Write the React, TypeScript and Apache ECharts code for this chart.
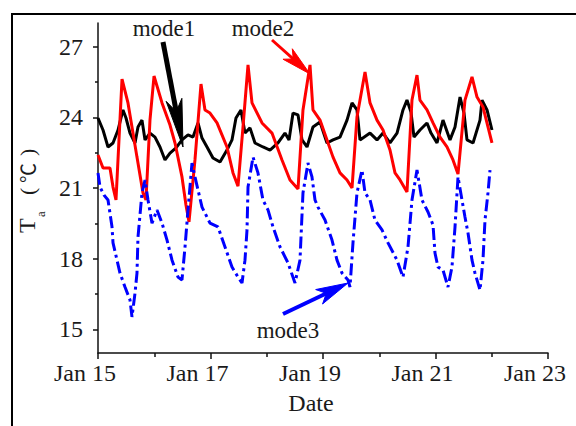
import React, { useEffect, useRef } from "react";
import * as echarts from "echarts";

// Date axis: days after Jan 15 00:00
const xTickValues = [0, 2, 4, 6, 8];
const xTickLabels = ["Jan 15", "Jan 17", "Jan 19", "Jan 21", "Jan 23"];
const yTickValues = [15, 18, 21, 24, 27];
const yMinorTickValues = [16.5, 19.5, 22.5, 25.5];
const seriesNames = ["mode1", "mode2", "mode3"];
const xAxisTitle = "Date";

// mode1 (black)
const mode1Days = [0, 0.089, 0.178, 0.267, 0.356, 0.444, 0.498, 0.569, 0.658, 0.711, 0.782, 0.836, 0.924, 1.013, 1.102, 1.191, 1.28, 1.387, 1.493, 1.6, 1.689, 1.778, 1.849, 1.938, 2.044, 2.169, 2.293, 2.382, 2.453, 2.542, 2.613, 2.702, 2.791, 2.933, 3.058, 3.2, 3.324, 3.396, 3.467, 3.556, 3.627, 3.716, 3.822, 3.947, 4.071, 4.178, 4.302, 4.427, 4.516, 4.604, 4.658, 4.836, 4.96, 5.067, 5.191, 5.316, 5.422, 5.493, 5.564, 5.618, 5.724, 5.849, 5.92, 6.027, 6.133, 6.258, 6.347, 6.436, 6.507, 6.56, 6.667, 6.791, 6.827, 6.916, 7.004];
const mode1Temps = [23.97, 23.46, 22.74, 22.91, 23.46, 24.31, 23.97, 23.33, 22.91, 23.59, 23.88, 23.04, 23.33, 23.16, 22.74, 22.19, 22.48, 22.7, 23.04, 23.25, 23.16, 23.76, 23.12, 22.74, 22.27, 22.1, 22.61, 23.04, 23.97, 24.31, 23.33, 23.55, 22.91, 22.74, 22.61, 22.91, 23.33, 23.04, 24.18, 24.1, 23.04, 22.74, 23.59, 23.8, 22.91, 23.04, 23.16, 23.88, 24.61, 24.31, 23.04, 23.33, 23.04, 23.33, 22.91, 23.33, 24.31, 24.73, 24.22, 23.16, 23.46, 23.76, 23.33, 22.91, 23.88, 23.04, 23.59, 24.86, 24.18, 23.04, 22.91, 23.88, 24.73, 24.31, 23.46];

// mode2 (red)
const mode2Days = [0, 0.089, 0.213, 0.267, 0.32, 0.373, 0.427, 0.533, 0.622, 0.693, 0.8, 0.853, 0.924, 0.996, 1.138, 1.28, 1.369, 1.493, 1.564, 1.618, 1.724, 1.831, 1.902, 1.991, 2.116, 2.293, 2.4, 2.489, 2.578, 2.667, 2.738, 2.916, 3.093, 3.271, 3.413, 3.556, 3.644, 3.769, 3.822, 3.947, 4.071, 4.178, 4.302, 4.427, 4.516, 4.604, 4.747, 4.836, 4.96, 5.067, 5.191, 5.28, 5.369, 5.493, 5.582, 5.671, 5.724, 5.849, 5.956, 6.08, 6.204, 6.311, 6.4, 6.524, 6.649, 6.738, 6.844, 6.933, 7.004];
const mode2Temps = [22.4, 21.85, 21.85, 21.04, 20.49, 23.04, 25.62, 24.61, 23.33, 22.31, 20.79, 20.49, 23.88, 25.75, 24.61, 23.67, 22.91, 21.47, 20.28, 19.56, 22.19, 25.41, 24.31, 24.18, 23.76, 22.74, 21.64, 21.08, 23.59, 26.22, 24.61, 23.76, 23.33, 22.19, 21.34, 20.96, 24.31, 26.22, 24.31, 23.88, 23.04, 22.31, 21.64, 21.34, 21.0, 24.01, 25.92, 24.61, 23.88, 23.46, 22.61, 21.64, 21.34, 20.83, 24.73, 25.79, 24.73, 24.31, 23.76, 23.16, 22.74, 22.19, 21.59, 24.73, 25.71, 24.86, 24.44, 23.59, 22.91];

// mode3 (blue)
const mode3Days = [0, 0.036, 0.107, 0.178, 0.249, 0.267, 0.338, 0.391, 0.48, 0.569, 0.604, 0.658, 0.693, 0.711, 0.782, 0.836, 0.889, 0.96, 1.049, 1.138, 1.227, 1.316, 1.422, 1.493, 1.547, 1.6, 1.671, 1.724, 1.849, 1.991, 2.133, 2.258, 2.382, 2.489, 2.56, 2.613, 2.649, 2.667, 2.756, 2.844, 2.933, 3.022, 3.111, 3.236, 3.378, 3.502, 3.591, 3.644, 3.733, 3.804, 3.858, 3.911, 4.036, 4.16, 4.249, 4.338, 4.444, 4.48, 4.533, 4.604, 4.693, 4.747, 4.836, 4.924, 5.049, 5.156, 5.316, 5.422, 5.511, 5.582, 5.671, 5.76, 5.867, 5.956, 5.991, 6.044, 6.133, 6.222, 6.293, 6.347, 6.4, 6.471, 6.524, 6.578, 6.649, 6.702, 6.791, 6.844, 6.88, 6.933, 6.969];
const mode3Temps = [21.64, 21.04, 20.7, 20.49, 19.35, 18.67, 17.94, 17.39, 16.8, 16.25, 15.53, 16.54, 17.39, 18.92, 20.79, 21.34, 20.49, 19.51, 20.07, 19.51, 18.79, 17.94, 17.22, 17.1, 18.5, 20.07, 22.06, 21.47, 20.19, 19.51, 19.35, 18.5, 17.65, 17.22, 16.97, 17.94, 19.22, 21.04, 22.31, 21.64, 20.49, 20.07, 19.35, 18.5, 17.82, 16.97, 17.94, 20.79, 22.06, 21.47, 20.49, 20.19, 19.64, 18.79, 17.94, 17.39, 17.1, 16.8, 18.67, 20.79, 21.76, 20.79, 20.49, 19.64, 19.22, 18.67, 17.94, 17.22, 18.5, 20.49, 21.76, 20.49, 19.98, 19.43, 18.24, 17.65, 17.52, 16.8, 17.65, 19.35, 21.47, 20.49, 19.77, 19.09, 17.94, 17.39, 16.67, 17.94, 19.64, 20.79, 21.76];

const zip = (xs: number[], ys: number[]) => xs.map((x, i) => [x, ys[i]]);

const SERIF = '"Liberation Serif", "Times New Roman", serif';
const TXT = "#1a1a1a";

function arrowHead(tip: [number, number], tail: [number, number], len: number, half: number) {
  const dx = tip[0] - tail[0];
  const dy = tip[1] - tail[1];
  const l = Math.hypot(dx, dy);
  const ux = dx / l, uy = dy / l;
  const bx = tip[0] - ux * len, by = tip[1] - uy * len;
  return [
    [tip[0], tip[1]],
    [bx - uy * half, by + ux * half],
    [bx + ux * len * 0.25, by + uy * len * 0.25],
    [bx + uy * half, by - ux * half],
  ];
}

function arrow(tail: [number, number], tip: [number, number], color: string, len: number, half: number, w: number) {
  return [
    {
      type: "line",
      shape: { x1: tail[0], y1: tail[1], x2: tip[0] - (tip[0] - tail[0]) * 0.2, y2: tip[1] - (tip[1] - tail[1]) * 0.2 },
      style: { stroke: color, lineWidth: w },
      z: 100,
    },
    {
      type: "polygon",
      shape: { points: arrowHead(tip, tail, len, half) },
      style: { fill: color, stroke: color, lineWidth: 1 },
      z: 100,
    },
  ];
}

export default function App() {
  const ref = useRef<HTMLDivElement>(null);
  useEffect(() => {
    if (!ref.current) return;
    const chart = echarts.init(ref.current, undefined, { renderer: "svg" });
    const option: any = {
      animation: false,
      backgroundColor: "#ffffff",
      grid: { left: 98, right: 28, top: 23, bottom: 73 },
      xAxis: {
        type: "value",
        min: 0,
        max: 8,
        interval: 2,
        axisLine: { show: true, lineStyle: { color: "#111", width: 1.5 } },
        axisTick: { show: true, inside: false, length: 6, lineStyle: { color: "#111", width: 1.5 } },
        minorTick: { show: true, splitNumber: 2, length: 4, lineStyle: { color: "#111", width: 1.5 } },
        splitLine: { show: false },
        minorSplitLine: { show: false },
        axisLabel: {
          margin: 8,
          color: TXT,
          fontSize: 24,
          fontFamily: SERIF,
          padding: [0, 26, 0, 0],
          formatter: (v: number) => {
            const i = xTickValues.indexOf(v);
            return i >= 0 ? xTickLabels[i] : "";
          },
        },
      },
      yAxis: [
        {
          type: "value",
          min: 14,
          max: 28,
          position: "left",
          axisLine: { show: true, lineStyle: { color: "#111", width: 1.5 } },
          axisTick: { show: true, inside: false, length: 5, customValues: yTickValues, lineStyle: { color: "#111", width: 1.5 } },
          splitLine: { show: false },
          axisLabel: { margin: 15, color: TXT, fontSize: 24, fontFamily: SERIF, customValues: yTickValues },
        },
        {
          type: "value",
          min: 14,
          max: 28,
          position: "left",
          offset: 0,
          axisLine: { show: false },
          axisTick: { show: true, inside: false, length: 3, customValues: yMinorTickValues, lineStyle: { color: "#111", width: 1.5 } },
          splitLine: { show: false },
          axisLabel: { show: false },
        },
      ],
      series: [
        {
          name: seriesNames[0],
          type: "line",
          data: zip(mode1Days, mode1Temps),
          showSymbol: false,
          lineStyle: { color: "#000000", width: 3 },
          z: 2,
        },
        {
          name: seriesNames[1],
          type: "line",
          data: zip(mode2Days, mode2Temps),
          showSymbol: false,
          lineStyle: { color: "#ff0000", width: 3 },
          z: 3,
        },
        {
          name: seriesNames[2],
          type: "line",
          data: zip(mode3Days, mode3Temps),
          showSymbol: false,
          lineStyle: { color: "#0000ff", width: 3, type: [12, 4, 3, 4] },
          z: 4,
        },
      ],
      graphic: [
        {
          type: "rect",
          shape: { x: 12, y: 14, width: 700, height: 600 },
          style: { fill: "none", stroke: "#000", lineWidth: 2 },
          silent: true,
          z: 100,
        },
        {
          type: "text",
          x: 164,
          y: 28,
          style: { text: seriesNames[0], fontSize: 23, fontFamily: SERIF, fill: TXT, align: "center", verticalAlign: "middle" },
          z: 100,
        },
        {
          type: "text",
          x: 263,
          y: 28,
          style: { text: seriesNames[1], fontSize: 23, fontFamily: SERIF, fill: TXT, align: "center", verticalAlign: "middle" },
          z: 100,
        },
        {
          type: "text",
          x: 288,
          y: 330,
          style: { text: seriesNames[2], fontSize: 23, fontFamily: SERIF, fill: TXT, align: "center", verticalAlign: "middle" },
          z: 100,
        },
        ...arrow([163, 42], [183, 147], "#000000", 48, 8, 5),
        ...arrow([272, 40], [310, 74], "#ff0000", 30, 7, 3),
        ...arrow([283, 314], [348, 283], "#0000ff", 32, 8, 4),
        {
          type: "text",
          x: 311,
          y: 403,
          style: { text: xAxisTitle, fontSize: 24, fontFamily: SERIF, fill: TXT, align: "center", verticalAlign: "middle" },
          z: 100,
        },
        {
          type: "group",
          x: 27,
          y: 186,
          rotation: Math.PI / 2,
          children: [
            {
              type: "text",
              x: -47,
              y: 0,
              style: { text: "T", fontSize: 24, fontFamily: SERIF, fill: TXT, align: "left", verticalAlign: "middle" },
            },
            {
              type: "text",
              x: -31,
              y: 13,
              style: { text: "a", fontSize: 13, fontFamily: SERIF, fill: TXT, align: "left", verticalAlign: "middle" },
            },
            {
              type: "text",
              x: -9,
              y: 0,
              style: { text: "(", fontSize: 22, fontFamily: SERIF, fill: TXT, align: "left", verticalAlign: "middle" },
            },
            {
              type: "text",
              x: 3,
              y: 0,
              style: { text: "℃", fontSize: 20, fontFamily: '"Noto Sans CJK SC", "DejaVu Sans", sans-serif', fill: TXT, align: "left", verticalAlign: "middle" },
            },
            {
              type: "text",
              x: 30,
              y: 0,
              style: { text: ")", fontSize: 22, fontFamily: SERIF, fill: TXT, align: "left", verticalAlign: "middle" },
            },
          ],
        },
      ],
    };
    chart.setOption(option);
    return () => chart.dispose();
  }, []);
  return <div ref={ref} style={{ position: "absolute", left: 0, top: 0, width: 576, height: 426 }} />;
}
